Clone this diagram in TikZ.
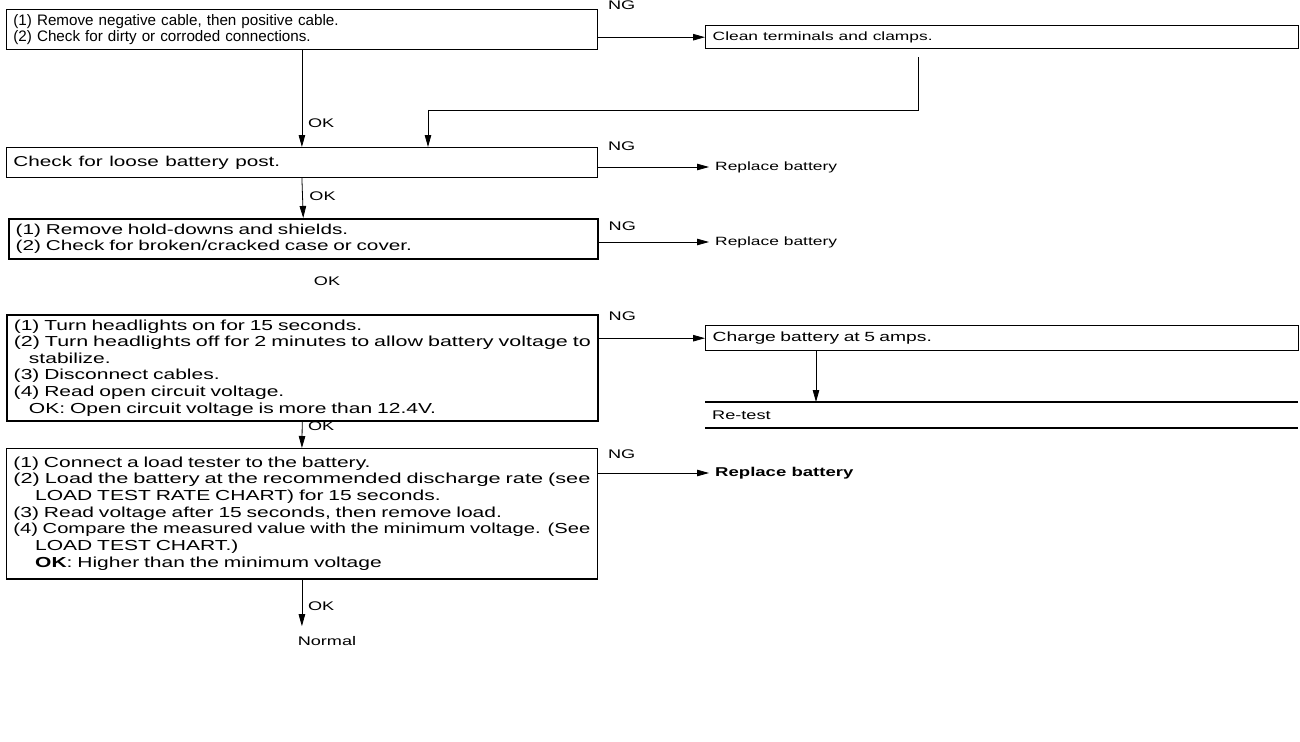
\documentclass[tikz,border=0pt]{standalone}
\usepackage{fontspec}
\setmainfont{Liberation Sans}[FakeStretch=1.45]
\newfontfamily\narrowsans{Liberation Sans}[FakeStretch=1.0]
\usetikzlibrary{arrows.meta}
\newcommand\myfs[2]{\fontsize{#1}{#2}\selectfont}
\newcommand\fullline[1]{\resizebox{577pt}{\height}{#1}}
\tikzset{
  every node/.style={inner sep=0pt},
  box/.style={draw, rectangle, anchor=north west, inner xsep=7pt, inner ysep=0pt, align=left, line width=0.8pt},
  tip/.style={-{Triangle[length=12pt,width=6.5pt]}, line width=0.8pt},
  lbl/.style={font=\myfs{12.5}{14}},
  side/.style={anchor=west, font=\myfs{12}{14}},
  heavy/.style={line width=2pt},
}
\begin{document}
\begin{tikzpicture}[x=1pt,y=-1pt]
\useasboundingbox[fill=white] (0,0) rectangle (1300,741);

% ---- boxes on the left
\node[box, minimum width=591pt, minimum height=40pt, text width=577pt, font=\narrowsans\myfs{15.2}{16.5}] (b1) at (6,9)
  {(1) Remove negative cable, then positive cable.\\(2) Check for dirty or corroded connections.};
\node[box, minimum width=591pt, minimum height=30pt, text width=577pt, font=\myfs{14.3}{16}] (b2) at (6,147)
  {\spaceskip=6.5pt plus 1pt Check for loose battery post.};
\node[box, minimum width=589pt, minimum height=40pt, text width=575pt, font=\myfs{14.3}{16}, line width=1.5pt] (b3) at (8,218)
  {(1) Remove hold-downs and shields.\\(2) Check for broken/cracked case or cover.};
\node[box, minimum width=591pt, minimum height=106pt, text width=577pt, font=\myfs{14.5}{16.6}, line width=1.5pt] (b4) at (6,314)
  {(1) Turn headlights on for 15 seconds.\\
   \fullline{(2) Turn headlights off for 2 minutes to allow battery voltage to}\\
   \hspace*{1.05em}stabilize.\\
   (3) Disconnect cables.\\
   (4) Read open circuit voltage.\\
   \hspace*{1.05em}OK: Open circuit voltage is more than 12.4V.};
\node[box, minimum width=591pt, minimum height=130pt, text width=577pt, font=\myfs{14.5}{16.7}] (b5) at (6,448)
  {(1) Connect a load tester to the battery.\\
   \fullline{(2) Load the battery at the recommended discharge rate (see}\\
   \hspace*{1.5em}LOAD TEST RATE CHART) for 15 seconds.\\
   (3) Read voltage after 15 seconds, then remove load.\\
   \fullline{(4) Compare the measured value with the minimum voltage. (See}\\
   \hspace*{1.5em}LOAD TEST CHART.)\\
   \hspace*{1.5em}\textbf{OK}: Higher than the minimum voltage};
\draw[heavy] (b5.south west) -- (b5.south east);

% ---- right side
\node[box, minimum width=593pt, minimum height=23pt, text width=579pt, font=\myfs{12}{14}, line width=1.4pt] (clean) at (705,25)
  {\spaceskip=5pt plus 1pt Clean terminals and clamps.};
\node[side] (rb1) at (715,167) {Replace battery};
\node[side] (rb2) at (715,242) {Replace battery};
\node[box, minimum width=593pt, minimum height=25pt, text width=579pt, font=\myfs{13.3}{15}, line width=1.4pt] (charge) at (705,325)
  {Charge battery at 5 amps.};
\node[anchor=north west, minimum width=593pt, minimum height=26pt, text width=579pt, inner xsep=7pt, align=left, font=\myfs{12.5}{14}] (rt) at (705,402)
  {Re-test};
\draw[heavy] (rt.north west) -- (rt.north east);
\draw[heavy] (rt.south west) -- (rt.south east);
\node[side, font=\myfs{12.8}{14}\bfseries] (rb3) at (715,473) {Replace battery};

% ---- NG connectors
\draw[tip] (b1.east |- clean.west) -- (clean.west);
\node[lbl, anchor=west] (ng1) at ([xshift=10pt,yshift=4pt]b1.north east) {NG};
\draw[tip, shorten >=6pt] (b2.east |- rb1.west) -- (rb1.west);
\node[lbl, anchor=west] (ng2) at ([xshift=10pt,yshift=1pt]b2.north east) {NG};
\draw[tip, shorten >=6pt] (b3.east |- rb2.west) -- (rb2.west);
\node[lbl, anchor=west] (ng3) at ([xshift=10pt,yshift=-8pt]b3.north east) {NG};
\draw[tip] (b4.east |- charge.west) -- (charge.west);
\node[lbl, anchor=west] (ng4) at ([xshift=10pt,yshift=-2pt]b4.north east) {NG};
\draw[tip, shorten >=6pt] (b5.east |- rb3.west) -- (rb3.west);
\node[lbl, anchor=west] (ng5) at ([xshift=10pt,yshift=-6pt]b5.north east) {NG};

% ---- feedback from clean box
\coordinate (fb) at (918,110);
\coordinate (fbx) at (428,110);
\draw (clean.south -| fb) ++(0,-8pt) -- (fb) -- (fbx);
\draw[tip] (fbx) -- (fbx |- b2.north);

% ---- charge to re-test
\coordinate (cx) at (816,380);
\draw[tip] (charge.south -| cx) -- (rt.north -| cx);

% ---- OK connectors
\draw[tip] (b1.south) -- (b2.north);
\node[lbl, anchor=west] (ok1) at ([xshift=6pt,yshift=24pt]b2.north) {OK};
\draw[tip] (b2.south) -- (b3.north);
\node[lbl, anchor=west] (ok2) at ([xshift=6pt,yshift=22pt]b3.north) {OK};
\node[lbl] (ok3) at (327,281) {OK};
\draw[tip] (b4.south) -- (b5.north);
\node[lbl, anchor=west] (ok4) at ([xshift=6pt,yshift=22pt]b5.north) {OK};
\node[lbl, font=\myfs{12.5}{14}] (nm) at (327,641) {Normal};
\draw[tip, shorten >=10pt] (b5.south) -- (b5.south |- nm.north);
\node[lbl, anchor=west] (ok5) at ([xshift=6pt,yshift=-27pt]b5.south) {OK};
\end{tikzpicture}
\end{document}
